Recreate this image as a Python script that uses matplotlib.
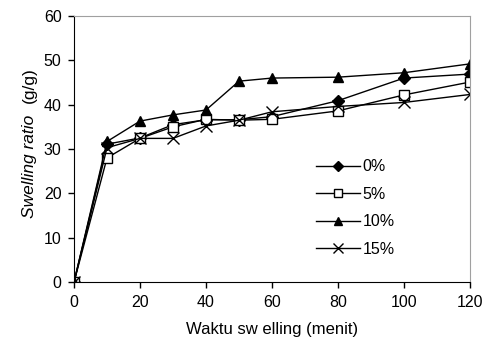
import matplotlib.pyplot as plt

plt.rcParams['font.family'] = ['Liberation Sans', 'DejaVu Sans']

waktu = [0, 10, 20, 30, 40, 50, 60, 80, 100, 120]
ratio_0 = [0, 31.1, 32.5, 35.5, 36.6, 36.6, 37.3, 40.9, 46.0, 46.9]
ratio_5 = [0, 28.0, 32.4, 35.0, 36.7, 36.5, 36.7, 38.6, 42.2, 45.1]
ratio_10 = [0, 31.7, 36.3, 37.7, 38.8, 45.3, 46.0, 46.2, 47.2, 49.2]
ratio_15 = [0, 30.3, 32.4, 32.4, 35.2, 36.5, 38.4, 39.6, 40.5, 42.3]
labels = ['0%', '5%', '10%', '15%']

fig = plt.figure(figsize=(4.87, 3.47), dpi=100)
ax = fig.add_axes([0.152, 0.187, 0.813, 0.767])

style = dict(color='black', lw=1)
ax.plot(waktu, ratio_0, marker='D', ms=6, mfc='black', mec='black', label=labels[0], **style)
ax.plot(waktu, ratio_5, marker='s', ms=7, mfc='white', mec='black', label=labels[1], **style)
ax.plot(waktu, ratio_10, marker='^', ms=7.5, mfc='black', mec='black', label=labels[2], **style)
ax.plot(waktu, ratio_15, marker='x', ms=8, mew=1, mec='black', label=labels[3], **style)

ax.set_xlim(0, 120)
ax.set_ylim(0, 60)
ax.set_xticks(range(0, 121, 20))
ax.set_yticks(range(0, 61, 10))
ax.tick_params(direction='out', length=4, width=1, labelsize=11.5, pad=5)

for s in ['top', 'right']:
    ax.spines[s].set_color('#a0a0a0')
for s in ['left', 'bottom']:
    ax.spines[s].set_color('black')

ax.set_xlabel('Waktu sw elling (menit)', fontsize=12, labelpad=9)

# y label: italic part plus plain unit
fig.text(0.06, 1 - 115 / 347, 'Swelling ratio', rotation=90, style='italic', fontsize=12.5,
         ha='center', va='top')
fig.text(0.06, 1 - 103 / 347, '(g/g)', rotation=90, fontsize=12.5, ha='center', va='bottom')

ax.legend(loc='upper left', bbox_to_anchor=(0.596, 0.485), frameon=False, fontsize=11.5,
          handlelength=2.7, handletextpad=0.2, labelspacing=0.78, borderaxespad=0,
          markerscale=0.85)

fig.savefig('out.png', dpi=100)
